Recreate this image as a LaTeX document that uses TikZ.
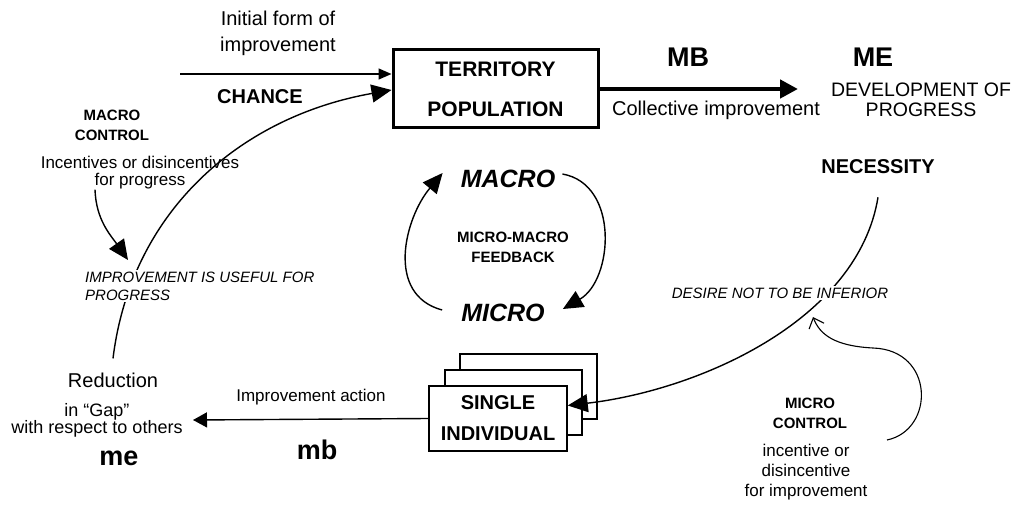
\documentclass[tikz,border=0pt]{standalone}
\usepackage{fontspec}
\setmainfont{Liberation Sans}
\usepackage{tikz}
\usetikzlibrary{arrows.meta,positioning}
\newcommand{\setfs}[2]{\fontsize{#1}{#2}\selectfont}

\begin{document}
\begin{tikzpicture}[x=1pt,y=-1pt,
  every node/.style={inner sep=0pt,align=center},
  con/.style={line width=1.4pt,-{Triangle[length=20pt,width=18pt]}},
  box/.style={draw,fill=white,line width=1.5pt}]
  \useasboundingbox (0,0) rectangle (1018,505);

  \node[font=\setfs{20}{26}] (init) at (278,33) {Initial form of\\improvement};
  \node[font=\setfs{20}{22}\bfseries] (chance) at (260,97) {CHANCE};
  \node[font=\setfs{15}{20}\bfseries] (macroctl) at (112,125) {MACRO\\CONTROL};
  \node[font=\setfs{17}{17}] (incent) at (140,173) {Incentives or disincentives\\for progress};

  \node[draw,line width=3pt,minimum width=205pt,minimum height=78pt,
        font=\setfs{21}{40}\bfseries] (terr) at (495.5,89) {TERRITORY\\POPULATION};
  \node[font=\setfs{27}{29}\bfseries] (mb) at (688,57) {MB};
  \node[font=\setfs{27}{29}\bfseries] (me) at (873,57) {ME};
  \node[font=\setfs{20}{22}] (coll) at (716,110) {Collective improvement};
  \node[font=\setfs{19.5}{20}] (dev) at (921,100) {DEVELOPMENT OF\\PROGRESS};
  \node[font=\setfs{20}{22}\bfseries] (necess) at (878,167) {NECESSITY};

  \node[font=\setfs{25}{27}\bfseries\itshape] (macro) at (508,179) {MACRO};
  \node[font=\setfs{25}{27}\bfseries\itshape] (micro) at (503,313) {MICRO};
  \node[font=\setfs{15}{20}\bfseries] (fb) at (513,247) {MICRO-MACRO\\FEEDBACK};

  \draw[box] (460,354) rectangle (597,419);
  \draw[box] (445,370) rectangle (582,435);
  \node[box,minimum width=138pt,minimum height=65pt,
        font=\setfs{20}{31}\bfseries] (single) at (498,418.5) {SINGLE\\INDIVIDUAL};

  \node[font=\setfs{17}{19}] (impr) at (311,397) {Improvement action};
  \node[font=\setfs{27}{29}\bfseries] (mbl) at (317,450) {mb};
  \node[font=\setfs{20}{22}] (red) at (113,380) {Reduction};
  \node[font=\setfs{18}{17}] (gap) at (97,420) {in “Gap”\\with respect to others};
  \node[font=\setfs{27}{29}\bfseries] (mel) at (119,458) {me};

  \node[font=\setfs{15}{20}\bfseries] (microctl) at (810,413) {MICRO\\CONTROL};
  \node[font=\setfs{17}{20}] (incent2) at (806,472) {incentive or\\disincentive\\for improvement};

  \coordinate (start) at (180,74);
  \coordinate (devtip) at (798,89);
  \coordinate (usetip) at (128,260);
  \coordinate (redtip) at (193,420);
  \coordinate (mcstart) at (887,440);
  \coordinate (mctip) at (813,317);

  \draw[con,-{Triangle[length=13pt,width=11pt]}] (start) -- ([yshift=15pt]terr.west);
  \draw[con] ([yshift=14pt]red.north) to[out=83,in=190] ([yshift=-1pt]terr.west);
  \draw[con] ([xshift=-45pt]incent.south) to[out=-88,in=125] (usetip);
  \draw[line width=4.5pt,-{Triangle[length=18pt,width=18pt]}] (terr.east) -- (terr.east -| devtip);
  \draw[con] ([xshift=7pt,yshift=5pt]macro.east) to[out=-10,in=30,looseness=1.1] ([xshift=18pt,yshift=4pt]micro.east);
  \draw[con] ([xshift=-19pt,yshift=3pt]micro.west) to[out=165,in=230,looseness=1.1] ([xshift=-18pt,yshift=6pt]macro.west);
  \draw[con] ([yshift=-23pt]necess.south) .. controls (858,320) and (700,390) .. ([yshift=13pt]single.east);
  \draw[con,-{Triangle[length=14pt,width=15pt]}] (single.west) -- (redtip);
  \draw[line width=1.1pt,-{Straight Barb[length=9pt,width=16pt]}] (mcstart)
    .. controls (935,430) and (935,350) .. (873,348)
    .. controls (835,346) and (820,335) .. (mctip);

  \node[fill=white,inner sep=2pt,align=left,anchor=west,font=\setfs{15}{18}\itshape]
    (useful) at (83,286) {IMPROVEMENT IS USEFUL FOR\\PROGRESS};
  \node[fill=white,inner sep=2pt,font=\setfs{15}{17}\itshape] (desire) at (780,293)
    {DESIRE NOT TO BE INFERIOR};
\end{tikzpicture}
\end{document}
